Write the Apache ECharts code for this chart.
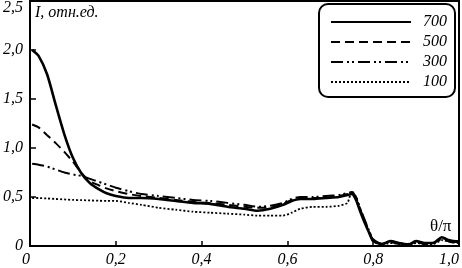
<!DOCTYPE html>
<html>
<head>
<meta charset="utf-8">
<script src="https://cdn.jsdelivr.net/npm/echarts@6/dist/echarts.min.js"></script>
<style>html,body{margin:0;padding:0;background:#fff}#c{width:462px;height:268px}</style>
</head>
<body>
<div id="c"></div>
<script>
const theta = [0.005,0.02,0.04,0.06,0.08,0.10,0.12,0.14,0.16,0.18,0.20,0.23,0.26,0.30,0.34,0.38,0.42,0.46,0.50,0.53,0.56,0.59,0.61,0.63,0.66,0.69,0.72,0.74,0.75,0.76,0.77,0.78,0.79,0.80,0.82,0.84,0.86,0.88,0.90,0.92,0.94,0.96,0.98,1.0];
const s700 = [2.00,1.94,1.75,1.44,1.14,0.90,0.74,0.64,0.58,0.535,0.51,0.49,0.49,0.48,0.46,0.44,0.43,0.40,0.38,0.36,0.38,0.42,0.46,0.48,0.48,0.49,0.50,0.52,0.53,0.47,0.35,0.24,0.14,0.05,0.02,0.05,0.03,0.01,0.05,0.03,0.03,0.09,0.05,0.04];
const s500 = [1.24,1.21,1.13,1.05,0.96,0.86,0.745,0.66,0.62,0.585,0.56,0.53,0.51,0.49,0.47,0.45,0.44,0.42,0.40,0.39,0.39,0.43,0.47,0.49,0.49,0.49,0.51,0.53,0.54,0.49,0.37,0.26,0.15,0.06,0.02,0.04,0.02,0.01,0.04,0.02,0.03,0.07,0.04,0.03];
const s300 = [0.84,0.83,0.81,0.78,0.75,0.73,0.715,0.685,0.655,0.625,0.595,0.56,0.53,0.51,0.49,0.47,0.46,0.44,0.42,0.40,0.41,0.44,0.48,0.50,0.50,0.51,0.52,0.54,0.55,0.50,0.38,0.27,0.16,0.07,0.02,0.05,0.03,0.02,0.05,0.03,0.03,0.08,0.06,0.05];
const s100 = [0.49,0.49,0.485,0.48,0.475,0.47,0.468,0.465,0.462,0.46,0.46,0.44,0.42,0.39,0.37,0.35,0.34,0.33,0.32,0.31,0.31,0.31,0.34,0.38,0.40,0.40,0.41,0.44,0.56,0.50,0.37,0.26,0.15,0.05,0.01,0.03,0.02,0.01,0.03,0.02,0.02,0.06,0.04,0.03];
const names = ['700','500','300','100'];
const xTicks = ['0','0,2','0,4','0,6','0,8','1,0'];
const yTicks = ['0','0,5','1,0','1,5','2,0','2,5'];

const F = '"Liberation Serif","Times New Roman",serif';
function pairs(arr){ return theta.map((t,i)=>[t,arr[i]]); }
const styles = [
  {width:2.6, type:'solid'},
  {width:2, type:[9,5]},
  {width:2, type:[12,4,2,3,2,4]},
  {width:1.8, type:[2,2]}
];
const data = [s700,s500,s300,s100];
const chart = echarts.init(document.getElementById('c'));
chart.setOption({
  animation:false,
  grid:{left:29,right:3,top:1,bottom:20,show:true,borderColor:'#000',borderWidth:2,backgroundColor:'transparent'},
  xAxis:{type:'value',min:0,max:1,interval:0.2,
    axisLine:{lineStyle:{color:'#000',width:2}},
    axisTick:{inside:true,length:5,lineStyle:{color:'#000',width:1.5}},
    splitLine:{show:false},
    axisLabel:{color:'#000',fontFamily:F,fontStyle:'italic',fontSize:16,margin:6,
      alignMinLabel:'right',alignMaxLabel:'right',
      formatter:(v)=>xTicks[Math.round(v/0.2)]}
  },
  yAxis:{type:'value',min:0,max:2.5,interval:0.5,
    axisLine:{show:true,lineStyle:{color:'#000',width:2}},
    axisTick:{show:true,inside:true,length:6,lineStyle:{color:'#000',width:1.5}},
    splitLine:{show:false},
    axisLabel:{color:'#000',fontFamily:F,fontStyle:'italic',fontSize:16,margin:7,
      formatter:(v)=>{const i=Math.round(v/0.5); return i===5?'{t|'+yTicks[i]+'}':yTicks[i];},
      rich:{t:{fontFamily:F,fontStyle:'italic',fontSize:16,color:'#000',padding:[14,0,0,0]}}}
  },
  legend:{orient:'vertical',left:319,top:4,
    data:names,
    itemWidth:80,itemHeight:14,itemGap:4,
    padding:[10,8,7,11],
    borderColor:'#000',borderWidth:2,borderRadius:9,backgroundColor:'#fff',
    itemStyle:{opacity:0},
    textStyle:{fontFamily:F,fontStyle:'italic',fontSize:16,color:'#000',padding:[0,0,0,7]}
  },
  graphic:[
    {type:'text',left:35,top:5,style:{text:'I, отн.ед.',font:'italic 16px '+F,fill:'#000'}},
    {type:'text',left:430,top:218,style:{text:'θ/π',font:'17px '+F,fill:'#000'}}
  ],
  series:names.map((n,k)=>({
    name:n,type:'line',data:pairs(data[k]),symbol:'none',smooth:0.2,
    lineStyle:Object.assign({color:'#000'},styles[k]),
    itemStyle:{color:'#000'},z:10-k
  }))
});
</script>
</body>
</html>
